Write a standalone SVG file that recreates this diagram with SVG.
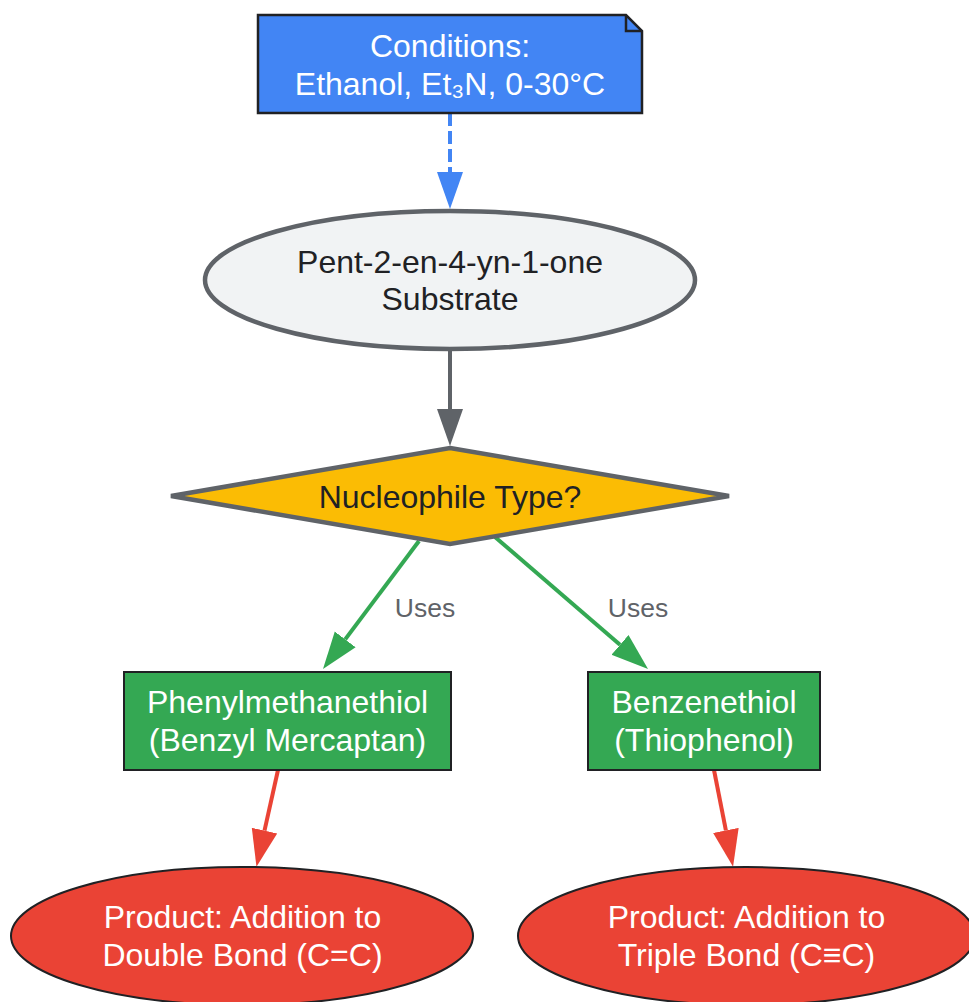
<svg xmlns="http://www.w3.org/2000/svg" width="969" height="1002" viewBox="0 0 969 1002">
<style>
text{font-family:"Liberation Sans",Arial,"DejaVu Sans",sans-serif;font-size:32px;text-anchor:middle}
.w{fill:#ffffff}
.d{fill:#202124}
.lbl{fill:#5f6368;font-size:26.5px}
.edge{fill:none;stroke-width:4}
</style>
<defs>
<marker id="aBlue" markerUnits="userSpaceOnUse" markerWidth="38" markerHeight="28" viewBox="0 0 38 28" refX="0" refY="14" orient="auto"><path d="M0,1 L37,14 L0,27 Z" fill="#4285f4"/></marker>
<marker id="aGray" markerUnits="userSpaceOnUse" markerWidth="38" markerHeight="28" viewBox="0 0 38 28" refX="0" refY="14" orient="auto"><path d="M0,1 L37,14 L0,27 Z" fill="#5f6368"/></marker>
<marker id="aGreen" markerUnits="userSpaceOnUse" markerWidth="38" markerHeight="28" viewBox="0 0 38 28" refX="0" refY="14" orient="auto"><path d="M0,1 L37,14 L0,27 Z" fill="#34a853"/></marker>
<marker id="aRed" markerUnits="userSpaceOnUse" markerWidth="38" markerHeight="28" viewBox="0 0 38 28" refX="0" refY="14" orient="auto"><path d="M0,1 L37,14 L0,27 Z" fill="#ea4335"/></marker>
</defs>
<rect width="969" height="1002" fill="#ffffff"/>
<g id="connectors">
<line class="edge" x1="450" y1="113" x2="450" y2="172" stroke="#4285f4" stroke-dasharray="13,5" marker-end="url(#aBlue)"/>
<line class="edge" x1="450" y1="349" x2="450" y2="409" stroke="#5f6368" marker-end="url(#aGray)"/>
<line class="edge" x1="419" y1="541" x2="345.2" y2="639.4" stroke="#34a853" marker-end="url(#aGreen)"/>
<line class="edge" x1="495" y1="537" x2="620" y2="644.8" stroke="#34a853" marker-end="url(#aGreen)"/>
<line class="edge" x1="278" y1="770" x2="264.5" y2="830.6" stroke="#ea4335" marker-end="url(#aRed)"/>
<line class="edge" x1="714" y1="770" x2="725.9" y2="830.4" stroke="#ea4335" marker-end="url(#aRed)"/>
<text class="lbl" x="425" y="616.7">Uses</text>
<text class="lbl" x="638" y="616.7">Uses</text>
</g>
<g id="conditions">
<path d="M258,15 L626,15 L642,31 L642,113 L258,113 Z" fill="#4285f4" stroke="#202124" stroke-width="2.5"/>
<path d="M626,15 L626,31 L642,31" fill="none" stroke="#202124" stroke-width="2.5"/>
<text class="w" x="450" y="56.7">Conditions:</text>
<text class="w" x="450" y="95">Ethanol, Et₃N, 0-30°C</text>
</g>
<g id="substrate">
<ellipse cx="450" cy="280" rx="245" ry="69" fill="#f1f3f4" stroke="#5f6368" stroke-width="4.5"/>
<text class="d" x="450" y="273.3">Pent-2-en-4-yn-1-one</text>
<text class="d" x="450" y="310">Substrate</text>
</g>
<g id="decision">
<polygon points="450,448 729,496 450,544 171,496" fill="#fbbc04" stroke="#5f6368" stroke-width="4.5"/>
<text class="d" x="450" y="507.7">Nucleophile Type?</text>
</g>
<g id="benzylMercaptan">
<rect x="124" y="672" width="327" height="98" fill="#34a853" stroke="#202124" stroke-width="2"/>
<text class="w" x="287.5" y="713.3">Phenylmethanethiol</text>
<text class="w" x="287.5" y="750.7">(Benzyl Mercaptan)</text>
</g>
<g id="thiophenol">
<rect x="588" y="672" width="232" height="98" fill="#34a853" stroke="#202124" stroke-width="2"/>
<text class="w" x="704" y="713.3">Benzenethiol</text>
<text class="w" x="704" y="750.7">(Thiophenol)</text>
</g>
<g id="productDouble">
<ellipse cx="242" cy="936" rx="231" ry="69" fill="#ea4335" stroke="#202124" stroke-width="2"/>
<text class="w" x="242.5" y="928.3">Product: Addition to</text>
<text class="w" x="242.5" y="966">Double Bond (C=C)</text>
</g>
<g id="productTriple">
<ellipse cx="746.5" cy="936" rx="228.5" ry="69" fill="#ea4335" stroke="#202124" stroke-width="2"/>
<text class="w" x="746.5" y="928.3">Product: Addition to</text>
<text class="w" x="746.5" y="966">Triple Bond (C≡C)</text>
</g>
</svg>
